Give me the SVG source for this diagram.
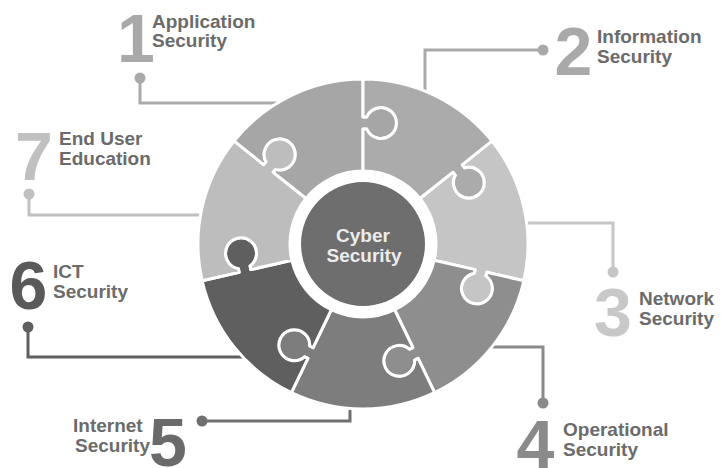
<svg xmlns="http://www.w3.org/2000/svg" xmlns:xlink="http://www.w3.org/1999/xlink" width="721" height="468" viewBox="0 0 721 468">
<style>
.lbl{font-family:"Liberation Sans",Arial,sans-serif;font-weight:bold;font-size:19px;fill:#6b6b6b}
.num{font-family:"Liberation Sans",Arial,sans-serif;font-weight:bold;font-size:68px;text-anchor:middle}
.ctr{font-family:"Liberation Sans",Arial,sans-serif;font-weight:bold;font-size:19px;fill:#ececec;text-anchor:middle}
.pc{stroke:#ffffff;stroke-width:3;stroke-linejoin:round}
.conn{fill:none;stroke-width:3}
</style>
<defs>
<path id="piece" d="M -129.00,-102.88 A165,165 0 0,1 0,-165 L0,-127 L3.71,-127 A15.5,15.5 0 1,1 3.71,-115 L0,-115 L0,-73 A73,73 0 0,0 -57.07,-45.51 L-89.91,-71.70 L-87.60,-74.60 A15.5,15.5 0 1,0 -96.98,-82.08 L-99.29,-79.18 Z"/>
</defs>
<rect width="721" height="468" fill="#ffffff"/>
<g id="connectors">
<path class="conn" stroke="#a9a9a9" d="M140,78 V103 H285"/><circle cx="140" cy="78" r="5.5" fill="#a9a9a9"/>
<path class="conn" stroke="#a9a9a9" d="M543,50 H425 V100"/><circle cx="543" cy="50" r="5.5" fill="#a9a9a9"/>
<path class="conn" stroke="#c5c5c5" d="M613,272 V223 H520"/><circle cx="613" cy="272" r="5.5" fill="#c5c5c5"/>
<path class="conn" stroke="#8a8a8a" d="M543,403 V347 H485"/><circle cx="543" cy="403" r="5.5" fill="#8a8a8a"/>
<path class="conn" stroke="#6f6f6f" d="M202,421 H350 V400"/><circle cx="202" cy="421" r="5.5" fill="#6f6f6f"/>
<path class="conn" stroke="#5f5f5f" d="M28,327 V357 H250"/><circle cx="28" cy="327" r="5.5" fill="#5f5f5f"/>
<path class="conn" stroke="#c0c0c0" d="M29,194 V215 H208"/><circle cx="29" cy="194" r="5.5" fill="#c0c0c0"/>
</g>
<g id="wheel" transform="translate(363,244)">
<use id="piece1" xlink:href="#piece" href="#piece" class="pc" fill="#a6a6a6"/>
<use id="piece2" xlink:href="#piece" href="#piece" class="pc" fill="#ababab" transform="rotate(51.4286)"/>
<use id="piece3" xlink:href="#piece" href="#piece" class="pc" fill="#c5c5c5" transform="rotate(102.8571)"/>
<use id="piece4" xlink:href="#piece" href="#piece" class="pc" fill="#8e8e8e" transform="rotate(154.2857)"/>
<use id="piece5" xlink:href="#piece" href="#piece" class="pc" fill="#7d7d7d" transform="rotate(205.7143)"/>
<use id="piece6" xlink:href="#piece" href="#piece" class="pc" fill="#5f5f5f" transform="rotate(257.1429)"/>
<use id="piece7" xlink:href="#piece" href="#piece" class="pc" fill="#bdbdbd" transform="rotate(308.5714)"/>
</g>
<g id="center">
<circle cx="363" cy="244" r="62" fill="#6e6e6e"/>
<text class="ctr" x="363" y="242">Cyber</text>
<text class="ctr" x="364" y="262">Security</text>
</g>
<g id="node1">
<text class="num" x="136" y="62" fill="#a9a9a9">1</text>
<text class="lbl" x="152" y="28">Application</text>
<text class="lbl" x="152" y="47">Security</text>
</g>
<g id="node2">
<text class="num" x="573.5" y="75" fill="#a9a9a9">2</text>
<text class="lbl" x="597" y="43">Information</text>
<text class="lbl" x="597" y="63">Security</text>
</g>
<g id="node3">
<text class="num" x="613" y="336" fill="#c8c8c8">3</text>
<text class="lbl" x="639" y="305">Network</text>
<text class="lbl" x="639" y="325">Security</text>
</g>
<g id="node4">
<text class="num" x="535.5" y="468" fill="#8a8a8a">4</text>
<text class="lbl" x="563" y="436">Operational</text>
<text class="lbl" x="563" y="456">Security</text>
</g>
<g id="node5">
<text class="num" x="168" y="466" fill="#6a6a6a">5</text>
<text class="lbl" x="73" y="432">Internet</text>
<text class="lbl" x="75" y="452">Security</text>
</g>
<g id="node6">
<text class="num" x="28.5" y="309" fill="#5a5a5a">6</text>
<text class="lbl" x="53" y="278">ICT</text>
<text class="lbl" x="53" y="298">Security</text>
</g>
<g id="node7">
<text class="num" x="34" y="180" fill="#c0c0c0">7</text>
<text class="lbl" x="59" y="145">End User</text>
<text class="lbl" x="59" y="165">Education</text>
</g>
</svg>
